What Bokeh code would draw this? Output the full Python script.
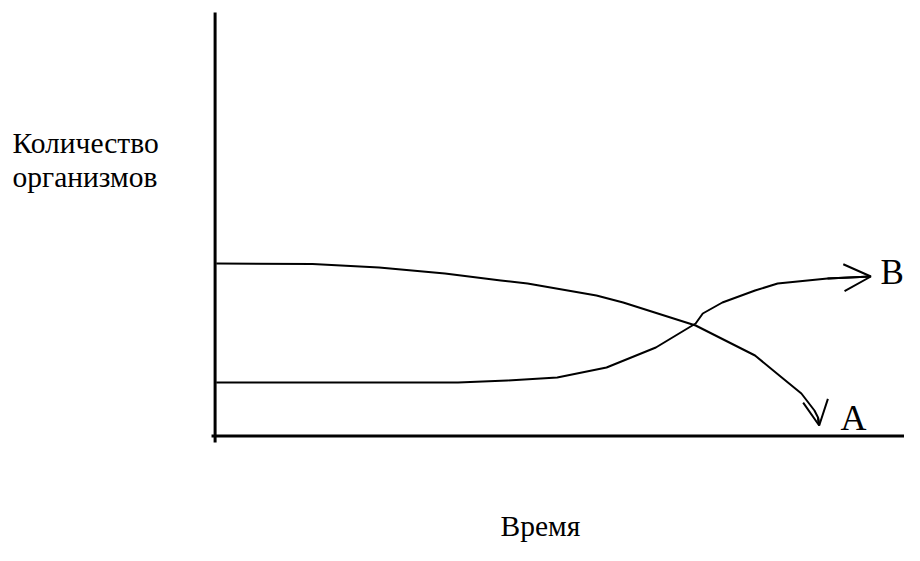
from bokeh.plotting import figure
from bokeh.models import Range1d, Arrow, OpenHead, Label
from bokeh.embed import file_html
from bokeh.resources import INLINE

# Schematic data (arbitrary units): time vs number of organisms
time_a = [0.3, 16.5, 27.7, 38.8, 48.2, 52.7, 64.3, 68.8, 81.0, 91.0, 95.5, 98.8, 101.0, 101.6, 101.8]
count_a = [43.0, 42.9, 42.0, 40.5, 38.75, 38.0, 35.0, 33.25, 27.5, 20.0, 14.5, 10.5, 6.25, 4.5, 2.5]

time_b = [0.3, 41.0, 49.3, 57.7, 66.0, 74.3, 81.0, 82.2, 85.5, 91.0, 94.8, 103.2, 110.5]
count_b = [13.25, 13.25, 13.75, 14.5, 17.0, 22.0, 28.0, 30.5, 33.25, 36.25, 38.0, 39.25, 39.75]

series_names = ["A", "B"]
y_label_lines = ["Количество", "организмов"]
x_label = "Время"

# axis extents (data units)
y_axis_min, y_axis_max = -1.75, 105.75
x_axis_min, x_axis_max = -0.5, 118.0

FONT = "Liberation Serif"

p = figure(width=904, height=545, output_backend="svg", toolbar_location=None,
           x_range=Range1d(-36.027, 116.16), y_range=Range1d(-27.5, 108.75),
           min_border=0)
p.axis.visible = False
p.grid.visible = False
p.outline_line_color = None
p.background_fill_color = "white"
p.border_fill_color = "white"

# axes lines
p.segment(x0=[0.1], y0=[y_axis_min], x1=[0.1], y1=[y_axis_max], line_color="black", line_width=3)
p.segment(x0=[x_axis_min], y0=[-0.125], x1=[x_axis_max], y1=[-0.125], line_color="black", line_width=3)

# curves
p.line(time_a, count_a, line_color="black", line_width=2, line_join="round")
p.line(time_b, count_b, line_color="black", line_width=2, line_join="round")

p.add_layout(Arrow(end=OpenHead(size=25, line_width=2, line_color="black"),
                   x_start=time_a[-2], y_start=count_a[-2], x_end=time_a[-1], y_end=count_a[-1],
                   line_width=2, line_color="black"))
p.add_layout(Arrow(end=OpenHead(size=27, line_width=2, line_color="black"),
                   x_start=time_b[-2], y_start=count_b[-2], x_end=time_b[-1], y_end=count_b[-1],
                   line_width=2, line_color="black"))

# series labels
p.add_layout(Label(x=time_a[-1] + 3.6, y=count_a[-1] + 2.0, text=series_names[0],
                   text_font=FONT, text_font_size="36px", text_color="black",
                   text_baseline="alphabetic"))
p.add_layout(Label(x=time_b[-1] + 1.6, y=count_b[-1] + 1.0, text=series_names[1],
                   text_font=FONT, text_font_size="35px", text_color="black",
                   text_baseline="alphabetic"))

# axis titles
p.add_layout(Label(x=-34.0, y=73.25, text=y_label_lines[0], text_font=FONT,
                   text_font_size="29.5px", text_color="black", text_baseline="alphabetic"))
p.add_layout(Label(x=-34.0, y=64.75, text=y_label_lines[1], text_font=FONT,
                   text_font_size="29.5px", text_color="black", text_baseline="alphabetic"))
p.add_layout(Label(x=48.15, y=-26.5, text=x_label, text_font=FONT,
                   text_font_size="29.5px", text_color="black", text_baseline="bottom"))

open("out.html", "w").write(file_html(p, INLINE))
